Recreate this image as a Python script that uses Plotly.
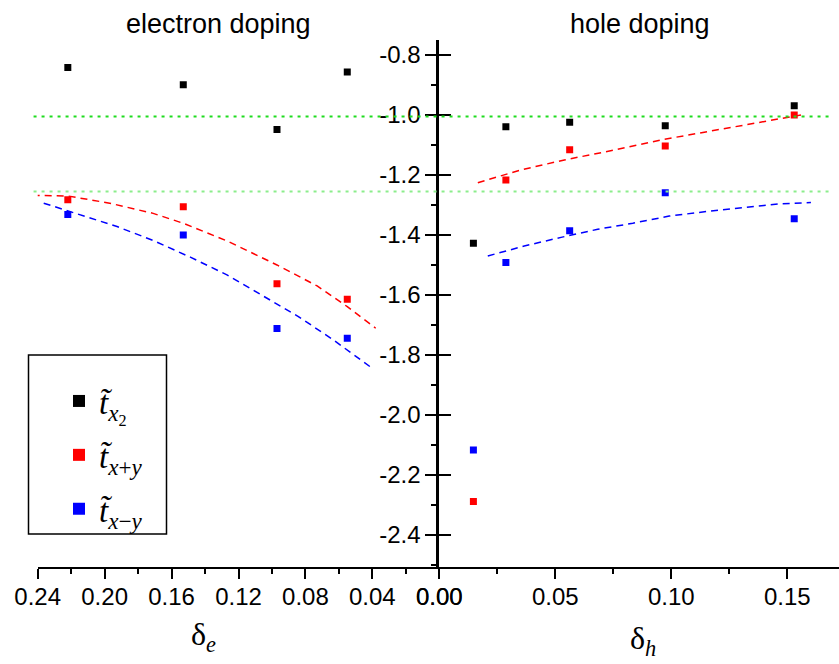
import plotly.graph_objects as go

# ---------------- data ----------------
delta_e = [0.222, 0.153, 0.097, 0.055]
e_tx2 = [-0.842, -0.899, -1.048, -0.857]
e_txpy = [-1.283, -1.306, -1.563, -1.614]
e_txmy = [-1.332, -1.400, -1.712, -1.744]

delta_h = [0.0147, 0.0287, 0.0562, 0.0974, 0.153]
h_tx2 = [-1.428, -1.039, -1.024, -1.036, -0.969]
h_txpy = [-2.289, -1.217, -1.116, -1.103, -1.000]
h_txmy = [-2.117, -1.492, -1.386, -1.259, -1.346]

fit_e_red_x = [0.243, 0.222, 0.197, 0.171, 0.153, 0.126, 0.097, 0.073, 0.055, 0.038]
fit_e_red_y = [-1.268, -1.270, -1.294, -1.328, -1.361, -1.422, -1.500, -1.570, -1.639, -1.711]
fit_e_blue_x = [0.2364, 0.2145, 0.1926, 0.1707, 0.1488, 0.1269, 0.106, 0.0842, 0.0633, 0.0414]
fit_e_blue_y = [-1.294, -1.333, -1.372, -1.419, -1.474, -1.533, -1.600, -1.672, -1.750, -1.839]

fit_h_red_x = [0.0166, 0.0352, 0.0539, 0.0754, 0.0956, 0.1185, 0.1401, 0.1559]
fit_h_red_y = [-1.226, -1.183, -1.150, -1.117, -1.083, -1.052, -1.022, -1.000]
fit_h_blue_x = [0.0209, 0.0366, 0.0525, 0.0683, 0.0834, 0.0991, 0.115, 0.1308, 0.1459, 0.1602]
fit_h_blue_y = [-1.470, -1.437, -1.408, -1.381, -1.361, -1.337, -1.322, -1.308, -1.297, -1.292]

ref_levels = [-1.005, -1.255]
ref_colors = ["#1fdc1f", "#8ced8c"]

y_ticks = [-0.8, -1.0, -1.2, -1.4, -1.6, -1.8, -2.0, -2.2, -2.4]
y_ticktext = ["-0.8", "-1.0", "-1.2", "-1.4", "-1.6", "-1.8", "-2.0", "-2.2", "-2.4"]
xe_ticks = [0.24, 0.20, 0.16, 0.12, 0.08, 0.04, 0.00]
xe_ticktext = ["0.24", "0.20", "0.16", "0.12", "0.08", "0.04", "0.00"]
xh_ticks = [0.00, 0.05, 0.10, 0.15]
xh_ticktext = ["0.00", "0.05", "0.10", "0.15"]

series_names = [
    "<i>t̃</i><sub><i>x</i><sub>2</sub></sub>",
    "<i>t̃</i><sub><i>x</i>+<i>y</i></sub>",
    "<i>t̃</i><sub><i>x</i>−<i>y</i></sub>",
]
series_colors = ["#000000", "#ff0000", "#0000ff"]

W, H = 839, 664
SANS = "Liberation Sans, Arial, sans-serif"
SERIF = "Liberation Serif, Times New Roman, serif"

fig = go.Figure()

# fit curves
dash = "7px,5px"
fig.add_trace(go.Scatter(x=fit_e_red_x, y=fit_e_red_y, mode="lines", xaxis="x", yaxis="y",
                         line=dict(color="#ff0000", width=1.5, dash=dash), showlegend=False))
fig.add_trace(go.Scatter(x=fit_e_blue_x, y=fit_e_blue_y, mode="lines", xaxis="x", yaxis="y",
                         line=dict(color="#0000ff", width=1.5, dash=dash), showlegend=False))
fig.add_trace(go.Scatter(x=fit_h_red_x, y=fit_h_red_y, mode="lines", xaxis="x2", yaxis="y",
                         line=dict(color="#ff0000", width=1.5, dash=dash), showlegend=False))
fig.add_trace(go.Scatter(x=fit_h_blue_x, y=fit_h_blue_y, mode="lines", xaxis="x2", yaxis="y2",
                         line=dict(color="#0000ff", width=1.5, dash=dash), showlegend=False))

e_vals = [e_tx2, e_txpy, e_txmy]
h_vals = [h_tx2, h_txpy, h_txmy]
for i in range(3):
    fig.add_trace(go.Scatter(x=delta_e, y=e_vals[i], mode="markers", xaxis="x", yaxis="y",
                             name=series_names[i], legendgroup=f"g{i}", showlegend=True,
                             marker=dict(symbol="square", size=7, color=series_colors[i])))
    fig.add_trace(go.Scatter(x=delta_h, y=h_vals[i], mode="markers", xaxis="x2", yaxis="y",
                             name=series_names[i], legendgroup=f"g{i}", showlegend=False,
                             marker=dict(symbol="square", size=7, color=series_colors[i])))

# reference lines
for lvl, col in zip(ref_levels, ref_colors):
    fig.add_shape(type="line", xref="paper", yref="y", x0=0.04, x1=0.99, y0=lvl, y1=lvl,
                  line=dict(color=col, width=2, dash="3px,5px"))

# legend box
fig.add_shape(type="rect", xref="paper", yref="paper",
              x0=28.5 / W, x1=166.5 / W, y0=1 - 534 / H, y1=1 - 355 / H,
              line=dict(color="black", width=1.5), fillcolor="rgba(0,0,0,0)")

yrange = [-2.506, -0.75]
ydom = [1 - 566.7 / H, 1 - 40 / H]
xsplit = 439.3 / W

fig.update_layout(
    width=W, height=H,
    margin=dict(l=0, r=0, t=0, b=0),
    paper_bgcolor="white", plot_bgcolor="white",
    showlegend=True,
    legend=dict(x=59 / W, y=1 - 373 / H, xanchor="left", yanchor="top",
                bgcolor="rgba(0,0,0,0)", borderwidth=0,
                font=dict(family=SERIF, size=33, color="black"),
                tracegroupgap=8, itemsizing="constant"),
    xaxis=dict(domain=[37.7 / W, xsplit], range=[0.24, 0.0], anchor="y",
               tickvals=xe_ticks, ticktext=xe_ticktext,
               ticks="outside", ticklen=10, tickwidth=1.5, tickcolor="black",
               minor=dict(tickmode="linear", tick0=0, dtick=0.02, ticklen=5, tickwidth=1.5, tickcolor="black", ticks="outside"),
               showline=True, linewidth=2, linecolor="black", showgrid=False, zeroline=False,
               ticklabelstandoff=-3,
               tickfont=dict(family=SANS, size=24, color="black"), automargin=False),
    xaxis2=dict(domain=[xsplit, 1.0], range=[0.0, 0.1723], anchor="y",
                tickvals=xh_ticks, ticktext=xh_ticktext,
                ticks="outside", ticklen=10, tickwidth=1.5, tickcolor="black",
                minor=dict(tickmode="linear", tick0=0, dtick=0.025, ticklen=5, tickwidth=1.5, tickcolor="black", ticks="outside"),
                showline=True, linewidth=2, linecolor="black", showgrid=False, zeroline=False,
                ticklabelstandoff=-3,
                tickfont=dict(family=SANS, size=24, color="black"), automargin=False),
    yaxis=dict(domain=ydom, range=yrange, anchor="x2", side="left",
               tickvals=y_ticks, ticktext=y_ticktext,
               ticks="outside", ticklen=11, tickwidth=1.5, tickcolor="black",
               minor=dict(tickmode="linear", tick0=-0.8, dtick=0.1, ticklen=5, tickwidth=1.5, tickcolor="black", ticks="outside"),
               showline=True, linewidth=3, linecolor="black", showgrid=False, zeroline=False,
               tickfont=dict(family=SANS, size=24, color="black"), automargin=False),
    yaxis2=dict(domain=ydom, range=yrange, anchor="x2", overlaying="y", side="left",
                tickvals=y_ticks, showticklabels=False,
                ticks="inside", ticklen=12, tickwidth=1.5, tickcolor="black",
                showline=False, showgrid=False, zeroline=False, automargin=False),
    annotations=[
        dict(text="electron doping", x=218 / W, y=1 - 24 / H, xref="paper", yref="paper",
             xanchor="center", yanchor="middle",
             showarrow=False, font=dict(family=SANS, size=27, color="black")),
        dict(text="hole doping", x=639.5 / W, y=1 - 24 / H, xref="paper", yref="paper",
             xanchor="center", yanchor="middle",
             showarrow=False, font=dict(family=SERIF if False else SANS, size=27, color="black")),
        dict(text="δ<sub><i>e</i></sub>", x=203 / W, y=1 - 636 / H, xref="paper", yref="paper",
             xanchor="center", yanchor="middle",
             showarrow=False, font=dict(family=SERIF, size=32, color="black")),
        dict(text="δ<sub><i>h</i></sub>", x=643 / W, y=1 - 640 / H, xref="paper", yref="paper",
             xanchor="center", yanchor="middle",
             showarrow=False, font=dict(family=SERIF, size=32, color="black")),
    ],
)

fig.write_html("out.html")
